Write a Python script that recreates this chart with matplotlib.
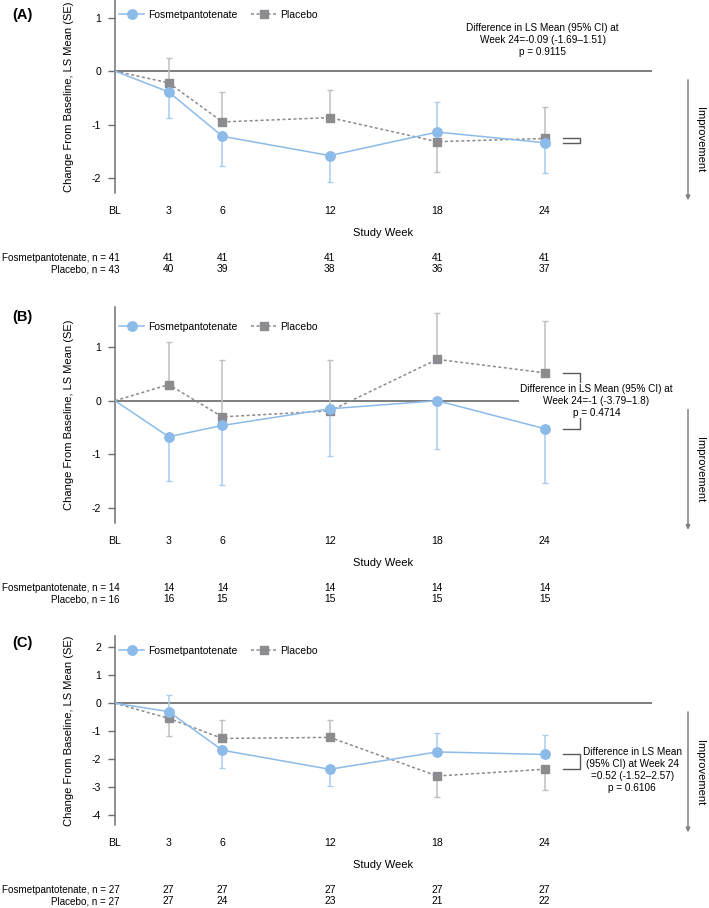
import matplotlib
matplotlib.use("Agg")
import matplotlib.pyplot as plt
from matplotlib.lines import Line2D
import matplotlib.patches as mpatches
import matplotlib.transforms as mtrans
import numpy as np

plt.rcParams['font.family'] = ['Liberation Sans', 'DejaVu Sans']
plt.rcParams['axes.unicode_minus'] = False

weeks = [0, 3, 6, 12, 18, 24]
week_labels = ['BL', '3', '6', '12', '18', '24']

# Panel A
A_fos = [0, -0.39, -1.22, -1.58, -1.14, -1.34]
A_fos_se = [0, 0.48, 0.56, 0.49, 0.57, 0.57]
A_fos_dir = [0, -1, -1, -1, 1, -1]
A_pla = [0, -0.22, -0.95, -0.87, -1.32, -1.26]
A_pla_se = [0, 0.47, 0.56, 0.51, 0.57, 0.58]
A_pla_dir = [0, 1, 1, 1, -1, 1]
A_n_fos = [41, 41, 41, 41, 41, 41]
A_n_pla = [43, 40, 39, 38, 36, 37]
A_text = "Difference in LS Mean (95% CI) at\nWeek 24=-0.09 (-1.69\u20131.51)\np = 0.9115"

# Panel B
B_fos = [0, -0.67, -0.46, -0.15, 0.0, -0.52]
B_fos_se = [0, 0.83, 1.11, 0.88, 0.90, 1.01]
B_fos_dir = [0, -1, -1, -1, -1, -1]
B_pla = [0, 0.30, -0.30, -0.19, 0.77, 0.52]
B_pla_se = [0, 0.79, 1.05, 0.94, 0.86, 0.96]
B_pla_dir = [0, 1, 1, 1, 1, 1]
B_n_fos = [14, 14, 14, 14, 14, 14]
B_n_pla = [16, 16, 15, 15, 15, 15]
B_text = "Difference in LS Mean (95% CI) at\nWeek 24=-1 (-3.79\u20131.8)\np = 0.4714"

# Panel C
C_fos = [0, -0.30, -1.68, -2.36, -1.74, -1.83]
C_fos_se = [0, 0.60, 0.63, 0.60, 0.69, 0.69]
C_fos_dir = [0, 1, -1, -1, 1, 1]
C_pla = [0, -0.54, -1.26, -1.22, -2.60, -2.36]
C_pla_se = [0, 0.63, 0.66, 0.62, 0.75, 0.75]
C_pla_dir = [0, -1, 1, 1, -1, -1]
C_n_fos = [27, 27, 27, 27, 27, 27]
C_n_pla = [27, 27, 24, 23, 21, 22]
C_text = "Difference in LS Mean\n(95% CI) at Week 24\n=0.52 (-1.52\u20132.57)\np = 0.6106"

BLUE = '#8cbbe9'
BLUE_EB = '#a9cdf0'
GREY = '#8c8c90'
GREY_EB = '#c0c0c0'
DARK = '#5a5a5a'

W, H = 709, 908
fig = plt.figure(figsize=(W / 100, H / 100), dpi=100)

def px_axes(top, bottom):
    left, right = 115, 652
    return [left / W, 1 - bottom / H, (right - left) / W, (bottom - top) / H]

panels = [
    dict(label='(A)', top=0, bottom=193, ylim=(-2.28, 1.33), yticks=[-2, -1, 0, 1],
         fos=A_fos, fse=A_fos_se, fdir=A_fos_dir, pla=A_pla, pse=A_pla_se, pdir=A_pla_dir,
         nf=A_n_fos, np_=A_n_pla, text=A_text, tx=23.9, ty=0.58, tbox=False,
         leg_y=0.922, lab_y=15),
    dict(label='(B)', top=306.7, bottom=522.7, ylim=(-2.27, 1.75), yticks=[-2, -1, 0, 1],
         fos=B_fos, fse=B_fos_se, fdir=B_fos_dir, pla=B_pla, pse=B_pla_se, pdir=B_pla_dir,
         nf=B_n_fos, np_=B_n_pla, text=B_text, tx=26.9, ty=0.0, tbox=True,
         leg_y=0.906, lab_y=317),
    dict(label='(C)', top=636, bottom=825, ylim=(-4.35, 2.4), yticks=[-4, -3, -2, -1, 0, 1, 2],
         fos=C_fos, fse=C_fos_se, fdir=C_fos_dir, pla=C_pla, pse=C_pla_se, pdir=C_pla_dir,
         nf=C_n_fos, np_=C_n_pla, text=C_text, tx=28.9, ty=-2.38, tbox=False,
         leg_y=0.921, lab_y=643),
]

for p in panels:
    ax = fig.add_axes(px_axes(p['top'], p['bottom']))
    ax.set_xlim(0, 30)
    ax.set_ylim(*p['ylim'])
    for s in ['top', 'right', 'bottom']:
        ax.spines[s].set_visible(False)
    ax.spines['left'].set_color('#707070')
    ax.spines['left'].set_linewidth(1.1)
    ax.set_yticks(p['yticks'])
    ax.set_yticklabels([str(t) for t in p['yticks']])
    ax.set_xticks(weeks)
    ax.set_xticklabels(week_labels)
    ax.tick_params(axis='x', length=0, pad=9.5, labelsize=7.6)
    ax.tick_params(axis='y', length=5, width=1, color='#707070', pad=5, labelsize=7.6)
    ax.set_ylabel('Change From Baseline, LS Mean (SE)', fontsize=8)
    ax.yaxis.set_label_coords(-0.076, 0.5)
    ax.axhline(0, color=DARK, lw=1.1, zorder=1)

    w = np.array(weeks, dtype=float)
    for vals, se, d, ecol in [(p['fos'], p['fse'], p['fdir'], BLUE_EB),
                              (p['pla'], p['pse'], p['pdir'], GREY_EB)]:
        vals = np.array(vals); se = np.array(se); d = np.array(d)
        lo = np.where(d < 0, se, 0)
        up = np.where(d > 0, se, 0)
        m = d != 0
        ax.errorbar(w[m], vals[m], yerr=[lo[m], up[m]], fmt='none', ecolor=ecol,
                    elinewidth=1.1, capsize=2.5, capthick=1.0, zorder=2)
    ax.plot(w, p['pla'], color=GREY, lw=1.1, ls=(0, (2, 1.6)), marker='s', ms=6,
            mfc=GREY, mec=GREY, zorder=3, markevery=list(range(1, len(weeks))))
    ax.plot(w, p['fos'], color=BLUE, lw=1.1, ls='-', marker='o', ms=6.8,
            mfc=BLUE, mec=BLUE, zorder=4, markevery=list(range(1, len(weeks))))

    handles = [Line2D([], [], color=BLUE, lw=1.1, marker='o', ms=6.8),
               Line2D([], [], color=GREY, lw=1.1, ls=(0, (2, 1.6)), marker='s', ms=6)]
    ax.legend(handles, ['Fosmetpantotenate', 'Placebo'], ncol=2, frameon=False,
              loc='center left', bbox_to_anchor=(0.008, p['leg_y']), borderpad=0,
              borderaxespad=0, handlelength=2.4, handletextpad=0.4, columnspacing=1.3,
              fontsize=7.5)

    # bracket at week 24
    xb0, xb1 = 25.0, 26.0
    ax.plot([xb0, xb1, xb1, xb0], [p['pla'][-1], p['pla'][-1], p['fos'][-1], p['fos'][-1]],
            color=DARK, lw=1.0, clip_on=False, zorder=3)
    kw = dict(ha='center', va='center', fontsize=7.2, linespacing=1.25, zorder=6)
    if p['tbox']:
        kw['bbox'] = dict(facecolor='white', edgecolor='none', pad=0.5)
    ax.text(p['tx'], p['ty'], p['text'], **kw)

    # Panel label
    fig.text(12 / W, 1 - p['lab_y'] / H, p['label'], fontsize=10.5, fontweight='bold',
             ha='left', va='center')

    # Study Week
    b = p['bottom']
    fig.text((115 + 652) / 2 / W, 1 - (b + 40) / H, 'Study Week', fontsize=8,
             ha='center', va='center')

    # N table
    tr = mtrans.blended_transform_factory(ax.transData, fig.transFigure)
    for row, (name, ns) in enumerate([('Fosmetpantotenate', p['nf']), ('Placebo', p['np_'])]):
        yy = 1 - (b + 65 + row * 11.5) / H
        fig.text(120 / W, yy, f'{name}, n = {ns[0]}', fontsize=7.1, ha='right', va='center')
        for wk, n in zip(weeks[1:], ns[1:]):
            ax.text(wk, yy, str(n), transform=tr, fontsize=7.4, ha='center', va='center')

    # Improvement arrow
    y0_px = p['top'] + (p['ylim'][1] - 0) / (p['ylim'][1] - p['ylim'][0]) * (p['bottom'] - p['top'])
    ys, ye = y0_px + 6, y0_px + 132
    fig.add_artist(mpatches.FancyArrowPatch(
        (688 / W, 1 - ys / H), (688 / W, 1 - ye / H), transform=fig.transFigure,
        arrowstyle='-|>,head_length=2.5,head_width=1.2', color='#808080', lw=1.1,
        mutation_scale=1))
    fig.text(700 / W, 1 - (ys + ye) / 2 / H, 'Improvement', rotation=270, fontsize=8,
             ha='center', va='center')

fig.savefig('out.png', dpi=100)
